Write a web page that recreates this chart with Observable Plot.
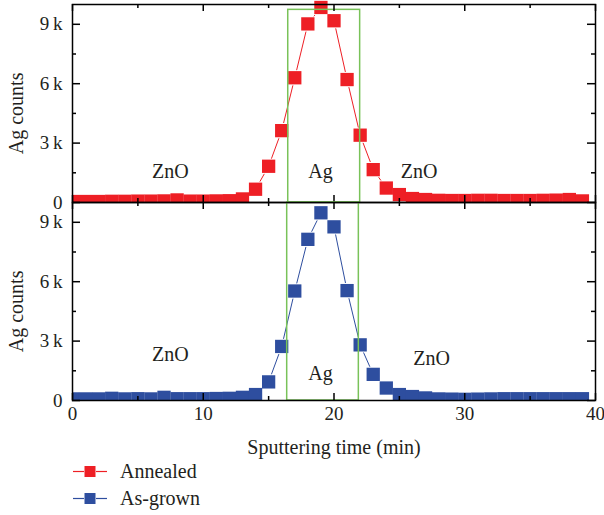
<!DOCTYPE html>
<html><head><meta charset="utf-8">
<script src="https://cdn.jsdelivr.net/npm/d3@7"></script>
<script src="https://cdn.jsdelivr.net/npm/@observablehq/plot@0.6"></script>
<style>
body{margin:0;background:#fff;}
#chart svg{display:block;overflow:visible;}
.legend{margin-left:72px;font-family:"Liberation Serif","Times New Roman","DejaVu Serif",serif;font-size:20px;color:#231f20;}
.legend .row{height:27px;display:flex;align-items:center;}
.legend svg{display:block;}
</style></head>
<body><div id="chart"></div>
<script>
// sample times (min)
const times = [0,1,2,3,4,5,6,7,8,9,10,11,12,13,14,15,16,17,18,19,20,21,22,23,24,25,26,27,28,29,30,31,32,33,34,35,36,37,38,39];
// Ag counts, annealed sample
const annealed = [50,50,50,60,60,70,70,80,130,70,70,80,90,180,670,1830,3630,6300,9020,9850,9180,6210,3400,1660,730,400,200,150,110,100,100,110,110,100,100,100,110,120,150,80];
// Ag counts, as-grown sample
const asGrown = [80,80,80,110,80,90,80,160,90,90,90,100,110,160,300,940,2730,5530,8140,9480,8770,5550,2810,1320,630,300,200,130,80,70,60,70,80,90,90,90,90,90,90,90];

const seriesNames = ["Annealed", "As-grown"];
const seriesColors = ["#ee1f25", "#2e4e9f"];

const xMajor = [0,10,20,30,40];
const xMinor = [5,15,25,35];
const yMajor = [0,3000,6000,9000];
const yMinor = [1500,4500,7500];
const xTickLabels = ["0","10","20","30","40"];
const yTickLabels = ["0","3\u2009k","6\u2009k","9\u2009k"];

// Ag-layer region (minutes, counts)
const agBoxAnnealed = [{x1:16.5, x2:22.0, y1:0, y2:9730}];
const agBoxAsGrown = [{x1:16.42, x2:21.9, y1:0, y2:10000}];

// region annotations
const labelsAnnealed = [{t:7.48, v:1540, text:"ZnO"}, {t:18.97, v:1540, text:"Ag"}, {t:26.5, v:1540, text:"ZnO"}];
const labelsAsGrown = [{t:7.48, v:2340, text:"ZnO"}, {t:18.97, v:1360, text:"Ag"}, {t:27.47, v:2120, text:"ZnO"}];

const W = 604, ML = 72, MR = 9, PH = 198, PW = W - ML - MR;
const FONT = "'Liberation Serif','Times New Roman','DejaVu Serif',serif";

function panel({values, color, box, labels, top}) {
  const data = times.map((t, i) => ({t, v: values[i]}));
  const H = top ? 202 : 256;
  // points close to the frame edges are clipped by it; the peak may overhang the top
  const dotSets = top
    ? [{filter: d => d.v < 8000, clip: true}, {filter: d => d.v >= 8000, clip: false}]
    : [{filter: null, clip: true}];
  const marks = [
    Plot.line(data, {x: "t", y: "v", stroke: color, strokeWidth: 1, clip: true}),
    ...dotSets.map(s => Plot.dot(data, {x: "t", y: "v", symbol: "square", r: 8.6, fill: "white", filter: s.filter, clip: s.clip})),
    ...dotSets.map(s => Plot.dot(data, {x: "t", y: "v", symbol: "square", r: 7.5, fill: color, filter: s.filter, clip: s.clip})),
    Plot.rect(box, {x1: "x1", x2: "x2", y1: "y1", y2: "y2", fill: "none", stroke: "#79c259", strokeWidth: 1.5}),
    Plot.text(labels, {x: "t", y: "v", text: "text", fill: "#231f20"}),
    // inward ticks on all four sides
    Plot.ruleX(xMajor, {x: d => d, insetBottom: PH - 7, stroke: "#000", strokeWidth: 1.5}),
    Plot.ruleX(xMinor, {x: d => d, insetBottom: PH - 4, stroke: "#000", strokeWidth: 1.5}),
    Plot.ruleX(xMajor, {x: d => d, insetTop: PH - 7, stroke: "#000", strokeWidth: 1.5}),
    Plot.ruleX(xMinor, {x: d => d, insetTop: PH - 4, stroke: "#000", strokeWidth: 1.5}),
    Plot.ruleY(yMajor, {y: d => d, insetRight: PW - 8, stroke: "#000", strokeWidth: 1.5}),
    Plot.ruleY(yMinor, {y: d => d, insetRight: PW - 4, stroke: "#000", strokeWidth: 1.5}),
    Plot.ruleY(yMajor, {y: d => d, insetLeft: PW - 8, stroke: "#000", strokeWidth: 1.5}),
    Plot.ruleY(yMinor, {y: d => d, insetLeft: PW - 4, stroke: "#000", strokeWidth: 1.5}),
    Plot.frame({stroke: "#000", strokeWidth: 1.5}),
    Plot.axisY({ticks: yMajor, tickSize: 0, tickPadding: 10, label: null, fontSize: 19,
      tickFormat: d => yTickLabels[yMajor.indexOf(d)], fill: "#231f20"}),
    Plot.text(["Ag counts"], {y: [4500], frameAnchor: "left", textAnchor: "middle", lineAnchor: "middle", dx: -56, rotate: -90, fill: "#231f20"})
  ];
  if (!top) {
    marks.push(Plot.axisX({ticks: xMajor, tickSize: 0, tickPadding: 6, label: null, fontSize: 19,
      tickFormat: d => xTickLabels[xMajor.indexOf(d)], fill: "#231f20"}));
    marks.push(Plot.text(["Sputtering time (min)"], {frameAnchor: "bottom", lineAnchor: "middle", dy: 47, fill: "#231f20"}));
  }
  return Plot.plot({
    width: W, height: H,
    marginLeft: ML, marginRight: MR,
    marginTop: top ? 4 : 0, marginBottom: top ? 0 : H - PH,
    style: {fontFamily: FONT, fontSize: "20px", overflow: "visible", background: "transparent"},
    x: {domain: [0, 40], axis: null},
    y: {domain: [0, 10000], axis: null},
    marks
  });
}

const chart = document.getElementById("chart");
chart.append(panel({values: annealed, color: seriesColors[0], box: agBoxAnnealed, labels: labelsAnnealed, top: true}));
chart.append(panel({values: asGrown, color: seriesColors[1], box: agBoxAsGrown, labels: labelsAsGrown, top: false}));

const legend = document.createElement("div");
legend.className = "legend";
seriesNames.forEach((name, i) => {
  const c = seriesColors[i];
  const row = document.createElement("div");
  row.className = "row";
  row.innerHTML = `<svg width="48" height="27"><line x1="1" x2="12" y1="13.5" y2="13.5" stroke="${c}" stroke-width="1.2"/><line x1="24" x2="35" y1="13.5" y2="13.5" stroke="${c}" stroke-width="1.2"/><rect x="12.5" y="8" width="11" height="11" fill="${c}"/></svg><span>${name}</span>`;
  legend.append(row);
});
chart.append(legend);
</script>
</body></html>
